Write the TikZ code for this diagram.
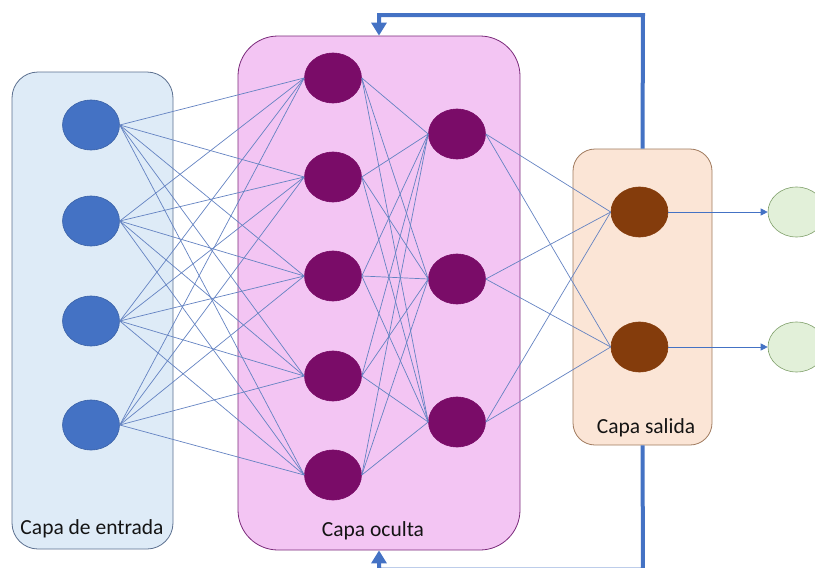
\documentclass[tikz,border=0pt]{standalone}
\usepackage{fontspec}
\setmainfont{Carlito}
\usetikzlibrary{shapes.geometric,arrows.meta}

\definecolor{inFill}{HTML}{DEEBF7}
\definecolor{inLine}{HTML}{5B6F8F}
\definecolor{inNode}{HTML}{4472C4}
\definecolor{hidFill}{HTML}{F3C5F3}
\definecolor{hidLine}{HTML}{7A2A7A}
\definecolor{hidNode}{HTML}{7A0C68}
\definecolor{outFill}{HTML}{FBE5D6}
\definecolor{outLine}{HTML}{A07A5E}
\definecolor{outNode}{HTML}{843C0C}
\definecolor{resFill}{HTML}{E2F0D9}
\definecolor{resLine}{HTML}{7F9F6A}
\definecolor{wire}{HTML}{6483C2}
\definecolor{loop}{HTML}{4472C4}

\tikzset{
  layerbox/.style={rectangle, inner sep=0pt, line width=0.8pt},
  neuron/.style={ellipse, inner sep=0pt, minimum width=57pt, minimum height=50pt, line width=0.6pt},
  layerlabel/.style={font=\fontsize{21.5}{23}\selectfont, text=black!92, inner sep=0pt},
  wirestyle/.style={draw=wire, line width=0.7pt},
  loopline/.style={draw=loop, line width=4pt, line join=miter},
}

\begin{document}
\begin{tikzpicture}[x=1pt,y=-1pt]
\useasboundingbox (0,0) rectangle (815,568);

% layer boxes
\node[layerbox, draw=inLine, fill=inFill, rounded corners=26pt,
      minimum width=161pt, minimum height=477pt] (inbox) at (92.5,310.5) {};
\node[layerbox, draw=hidLine, fill=hidFill, rounded corners=40pt,
      minimum width=282pt, minimum height=514pt] (hidbox) at (379,293) {};
\node[layerbox, draw=outLine, fill=outFill, rounded corners=22pt,
      minimum width=139pt, minimum height=296pt] (outbox) at (642.5,297) {};

% layer labels
\node[layerlabel] (inlab) at (92,529) {Capa de entrada};
\node[layerlabel] (hidlab) at (373,531) {Capa oculta};
\node[layerlabel] (outlab) at (646,428) {Capa salida};

% input neurons
\foreach \i/\y in {1/125,2/221,3/321,4/425}
  \node[neuron, fill=inNode, draw=inNode!85!black] (i\i) at (91,\y) {};

% first hidden layer
\foreach \i/\y in {1/78,2/177,3/276,4/376,5/475}
  \node[neuron, fill=hidNode, draw=hidNode] (h\i) at (333,\y) {};

% second hidden layer
\foreach \i/\y in {1/134,2/279,3/422}
  \node[neuron, fill=hidNode, draw=hidNode] (k\i) at (457,\y) {};

% output neurons
\foreach \i/\y in {1/212,2/347}
  \node[neuron, fill=outNode, draw=outNode] (o\i) at (639.5,\y) {};

% results
\foreach \i/\y in {1/212,2/347}
  \node[neuron, fill=resFill, draw=resLine] (r\i) at (796.5,\y) {};

% full connections between layers
\foreach \a in {1,...,4}
  \foreach \b in {1,...,5}
    \draw[wirestyle] (i\a.east) -- (h\b.west);
\foreach \a in {1,...,5}
  \foreach \b in {1,...,3}
    \draw[wirestyle] (h\a.east) -- (k\b.west);
\foreach \a in {1,...,3}
  \foreach \b in {1,2}
    \draw[wirestyle] (k\a.east) -- (o\b.west);

% outputs to results
\foreach \i in {1,2}
  \draw[wirestyle, draw=loop, -{Triangle[width=7pt,length=7pt]}] (o\i.east) -- (r\i.west);

% feedback loops
\coordinate (topturn) at (643,15);
\coordinate (botturn) at (643,569.5);
\draw[loopline, -{Triangle[width=15pt,length=13pt]}]
  (outbox.north) -- (topturn) -| (hidbox.north);
\draw[loopline, -{Triangle[width=15pt,length=13pt]}]
  (outbox.south) -- (botturn) -| (hidbox.south);

\end{tikzpicture}
\end{document}
